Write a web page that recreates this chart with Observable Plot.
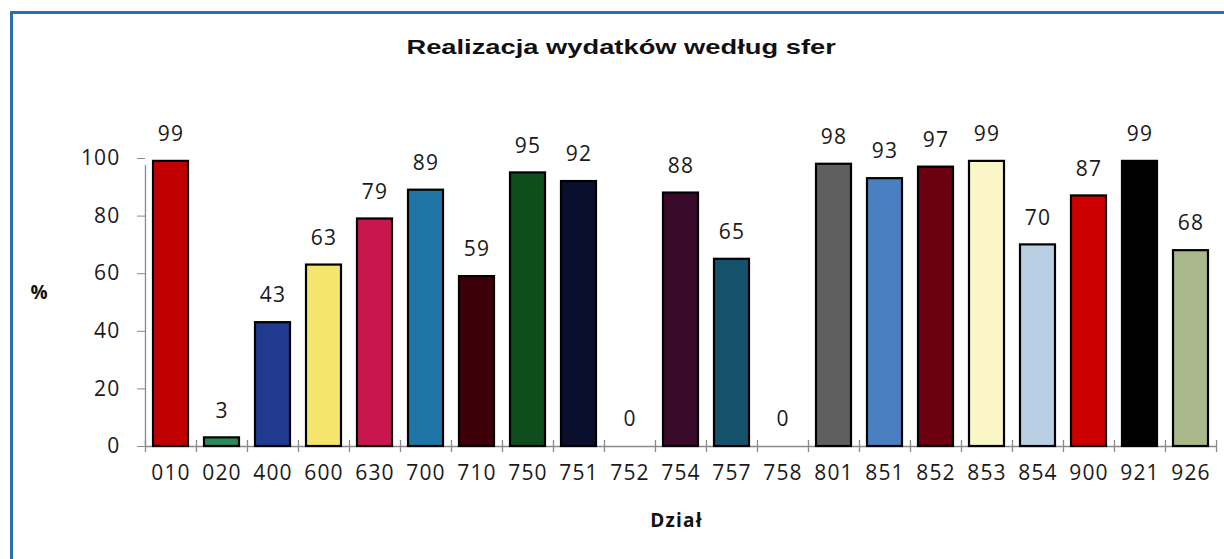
<!DOCTYPE html>
<html>
<head>
<meta charset="utf-8">
<script src="https://cdn.jsdelivr.net/npm/d3@7"></script>
<script src="https://cdn.jsdelivr.net/npm/@observablehq/plot@0.6"></script>
<style>
  html, body { margin: 0; padding: 0; background: #fff; overflow: hidden; }
  #wrap { position: relative; width: 1224px; height: 559px; overflow: hidden; background: #fff; }
  #bl { position: absolute; left: 10px; top: 11px; width: 3px; height: 560px; background: #2f6db3; }
  #bt { position: absolute; left: 10px; top: 11px; width: 1220px; height: 3px; background: #2f6db3; }
  #title { height: 60px; box-sizing: border-box; padding-top: 35px; padding-left: 18px;
           text-align: center; line-height: 1.117; }
  #title span { display: inline-block; font: bold 21px "Liberation Sans", Arial, sans-serif;
                color: #111; transform: scaleX(1.3); transform-origin: center; }
  #chart { position: relative; }
</style>
</head>
<body>
<div id="wrap">
  <div id="title"><span>Realizacja wydatków według sfer</span></div>
  <div id="chart"></div>
  <div id="bl"></div>
  <div id="bt"></div>
</div>
<script>
const categories = ["010","020","400","600","630","700","710","750","751","752","754","757","758","801","851","852","853","854","900","921","926"];
const values = [99,3,43,63,79,89,59,95,92,0,88,65,0,98,93,97,99,70,87,99,68];
const colors = ["#c00000","#2a8a58","#1f3a8f","#f6e56c","#c8174f","#1f76a6","#3d0008","#0f4d1c","#0a0f2e","#ffffff","#3a0a2a","#14516b","#ffffff","#5f5f5f","#4a7fc2","#6b000f","#faf6c8","#b9d0e4","#cc0000","#000000","#a9b98b"];
const yTicks = [0,20,40,60,80,100];
const xLabel = "Dział";
const yLabel = "%";

const data = categories.map((c, i) => ({cat: c, val: values[i], color: colors[i]}));

const W = 1224, H = 499, mL = 145, mR = 7, mT = 98, mB = 113;
const step = (W - mL - mR) / categories.length;
const numFont = "'Open Sans', 'Noto Sans', sans-serif";

const chart = Plot.plot({
  width: W, height: H,
  marginLeft: mL, marginRight: mR, marginTop: mT, marginBottom: mB,
  style: {fontFamily: numFont, background: "transparent", color: "#1a1a1a", letterSpacing: "1.2px"},
  x: {domain: categories, paddingInner: 0.31, paddingOuter: 0.155, label: null},
  y: {domain: [0, 100], label: null},
  marks: [
    Plot.ruleY([0], {stroke: "#8a8a8a", strokeWidth: 1.3}),
    Plot.ruleX([categories[0]], {y1: 0, y2: 100, dx: -step / 2, stroke: "#8a8a8a", strokeWidth: 1.3, insetBottom: -7}),
    Plot.ruleX(categories, {y1: 0, y2: 0, dx: -step / 2, stroke: "#8a8a8a", strokeWidth: 1.3, insetTop: -6, insetBottom: -6}),
    Plot.ruleX([categories[categories.length - 1]], {y1: 0, y2: 0, dx: step / 2, stroke: "#8a8a8a", strokeWidth: 1.3, insetTop: -6, insetBottom: -6}),
    Plot.axisY({ticks: yTicks, tickSize: 8, tickPadding: 17, fontSize: 21, stroke: "#8a8a8a", color: "#1a1a1a", label: null}),
    Plot.axisX({tickSize: 0, tickPadding: 19, fontSize: 21, color: "#1a1a1a", label: null}),
    Plot.barY(data.filter(d => d.val > 0), {x: "cat", y: "val", fill: "color", stroke: "#000", strokeWidth: 2.2}),
    Plot.text(data, {x: "cat", y: "val", text: d => String(d.val), dy: -27, fontSize: 21, fill: "#1a1a1a"}),
    Plot.text([yLabel], {frameAnchor: "left", dx: -115, dy: -10, fontSize: 19, fontWeight: "bold", fill: "#111"}),
    Plot.text([xLabel], {frameAnchor: "bottom", dy: 80, dx: -5, fontSize: 19, fontWeight: "bold", fill: "#111"})
  ]
});
document.getElementById("chart").appendChild(chart);
</script>
</body>
</html>
